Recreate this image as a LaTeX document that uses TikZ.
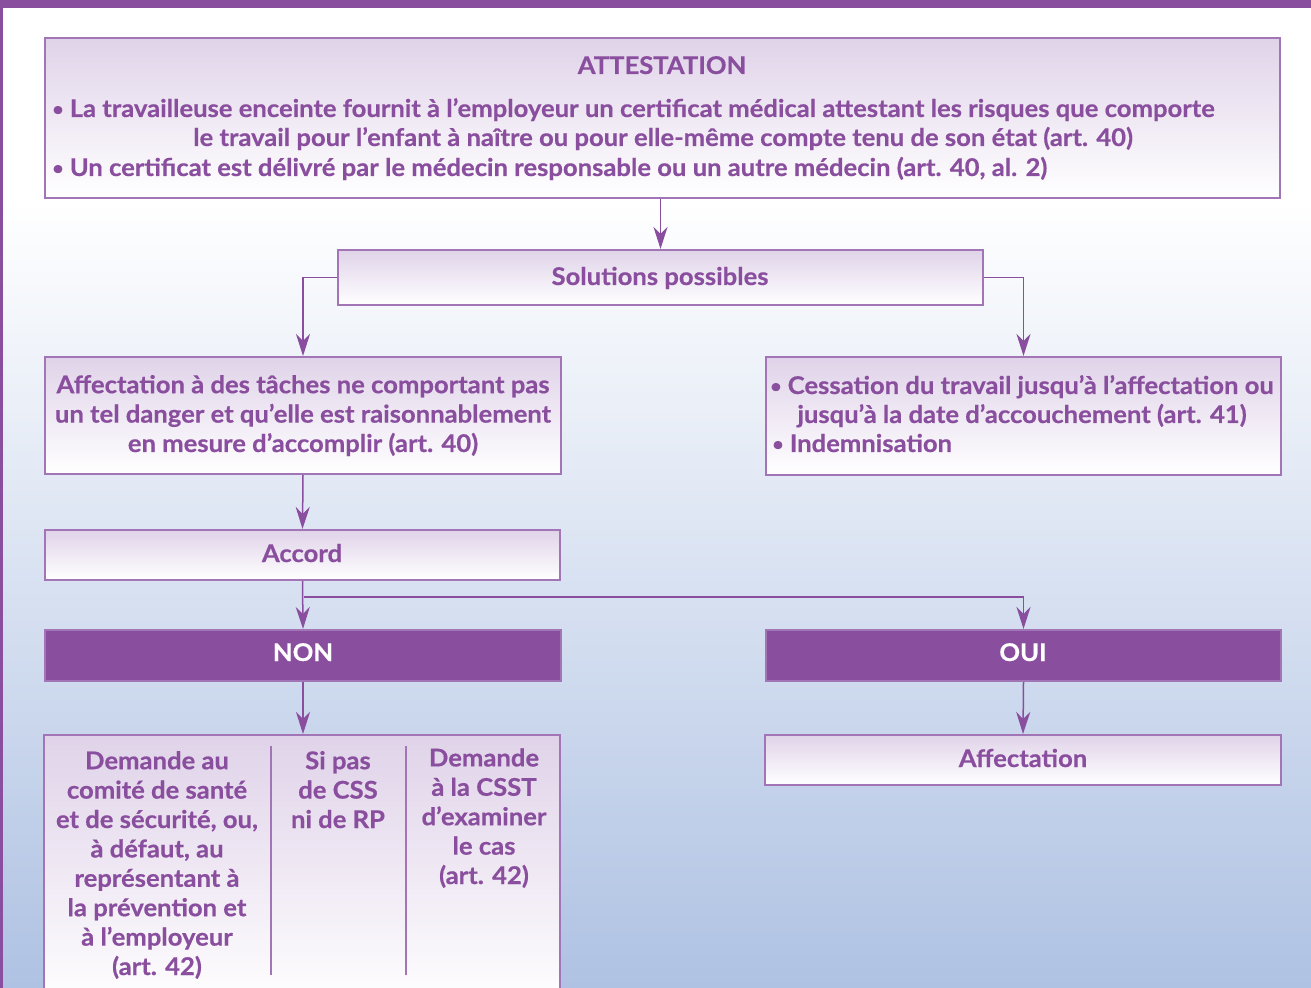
\documentclass[tikz,border=0pt]{standalone}
\usepackage{fontspec}
\setmainfont{Lato}[FakeStretch=1.05, BoldFeatures={FakeBold=0.5}]
\usepackage{tikz}
\usetikzlibrary{arrows.meta,fit}

\definecolor{mauve}{HTML}{8A4E9E}
\definecolor{mauveline}{HTML}{A276B6}
\definecolor{mauvetop}{HTML}{E0D3E9}
\definecolor{fondbleu}{HTML}{AFC2E3}

\newcommand{\puce}{\raisebox{0.12ex}{\scalebox{0.75}{•}}}

\tikzset{
  boite/.style={rectangle, draw=mauveline, line width=1pt, top color=mauvetop, bottom color=white, inner sep=0pt},
  pleine/.style={rectangle, draw=mauveline, line width=1pt, fill=mauve, inner sep=0pt},
  texte/.style={text=mauve, inner sep=0pt, font=\bfseries\fontsize{12.2}{14.7}\selectfont},
  fleche/.style={draw=mauve, line width=0.75pt, -{Stealth[length=11pt,width=7pt,inset=3.5pt]}},
  colonne/.style={draw=mauveline, line width=0.6pt},
}

\begin{document}
\begin{tikzpicture}[x=0.5pt,y=-0.5pt]
\clip (0,0) rectangle (1311,988);

% fond
\fill[white] (0,0) rectangle (1311,200);
\shade[top color=white, bottom color=fondbleu] (0,200) rectangle (1311,988);
\fill[mauve] (0,0) rectangle (1311,8);
\fill[mauve] (0,0) rectangle (3,988);

% boites
\node[boite, fit={(45,38) (1280,198)}] (attest) {};
\node[boite, fit={(338,250) (983,305)}] (solut) {};
\node[boite, fit={(45,357) (561,474)}] (tache) {};
\node[boite, fit={(766,357) (1281,475)}] (cessa) {};
\node[boite, fit={(45,530) (560,580)}] (accord) {};
\node[pleine, fit={(45,630) (561,681)}] (non) {};
\node[pleine, fit={(766,630) (1281,681)}] (oui) {};
\node[boite, fit={(44,735) (560,1010)}] (examen) {};
\node[boite, fit={(765,735) (1281,785)}] (affect) {};

% textes
\node[texte, anchor=base] (titre) at (662,74) {ATTESTATION};
\node[texte, anchor=base west] (att1) at (52,117) {\puce{} La travailleuse enceinte fournit à l’employeur un certificat médical attestant les risques que comporte};
\node[texte, anchor=base] (att2) at (663,146) {le travail pour l’enfant à naître ou pour elle-même compte tenu de son état (art. 40)};
\node[texte, anchor=base west] (att3) at (52,176) {\puce{} Un certificat est délivré par le médecin responsable ou un autre médecin (art. 40, al. 2)};

\node[texte, anchor=base] (solut-t) at (660,285) {Solutions possibles};

\node[texte, anchor=base, align=center] (tache-t) at (303,452) {Affectation à des tâches ne comportant pas\\un tel danger et qu’elle est raisonnablement\\en mesure d’accomplir (art. 40)};

\node[texte, anchor=base] (ces1) at (1022,394) {\puce{} Cessation du travail jusqu’à l’affectation ou};
\node[texte, anchor=base] (ces2) at (1022,423) {jusqu’à la date d’accouchement (art. 41)};
\node[texte, anchor=base west] (ces3) at (772,452) {\puce{} Indemnisation};

\node[texte, anchor=base] (accord-t) at (302,562) {Accord};
\node[texte, anchor=base, text=white] (non-t) at (303,661) {NON};
\node[texte, anchor=base, text=white] (oui-t) at (1023,661) {OUI};
\node[texte, anchor=base] (affect-t) at (1023,767) {Affectation};

\node[texte, anchor=base, align=center] (col1) at (157,975) {Demande au\\comité de santé\\et de sécurité, ou,\\à défaut, au\\représentant à\\la prévention et\\à l’employeur\\(art. 42)};
\node[texte, anchor=base, align=center] (col2) at (338,828) {Si pas\\de CSS\\ni de RP};
\node[texte, anchor=base, align=center] (col3) at (484,884) {Demande\\à la CSST\\d’examiner\\le cas\\(art. 42)};
\draw[colonne] (271,746) -- (271,975);
\draw[colonne] (406,746) -- (406,975);

% fleches
\coordinate (fourche) at (304,597);
\draw[fleche] (solut.north |- attest.south) -- (solut.north);
\draw[fleche] (solut.west) -| (tache.north);
\draw[fleche] (solut.east) -| (cessa.north);
\draw[fleche] (tache.south) -- (accord.north);
\draw[fleche] (accord.south) -- (non.north);
\draw[fleche] (fourche) -| (oui.north);
\draw[fleche] (non.south) -- (non.south |- examen.north);
\draw[fleche] (oui.south) -- (affect.north);
\end{tikzpicture}
\end{document}
